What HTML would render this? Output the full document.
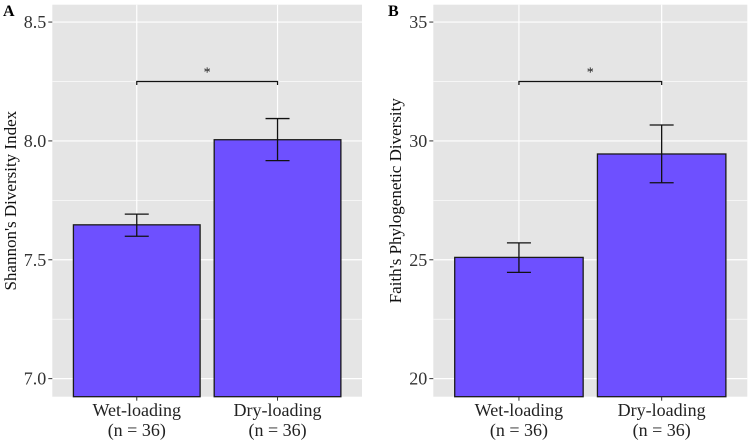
<!DOCTYPE html>
<html><head><meta charset="utf-8"><style>
html,body{margin:0;padding:0;background:#fff;}
svg text{font-family:"Liberation Serif","DejaVu Serif","Times New Roman",serif !important;}
</style></head><body>
<svg id="chart" width="750" height="440" viewBox="0 0 750 440" xmlns="http://www.w3.org/2000/svg" font-family="Liberation Serif, DejaVu Serif, serif"></svg>
<script>
const categories = ["Wet-loading", "Dry-loading"];
const catSub = ["(n = 36)", "(n = 36)"];
const shannonMean = [7.647, 8.005];
const shannonLow = [7.599, 7.917];
const shannonHigh = [7.692, 8.094];
const shannonTicks = ["7.0", "7.5", "8.0", "8.5"];
const shannonBracket = 8.25;
const faithMean = [25.1, 29.45];
const faithLow = [24.47, 28.24];
const faithHigh = [25.71, 30.67];
const faithTicks = ["20", "25", "30", "35"];
const faithBracket = 32.5;

const svg = document.getElementById('chart');
const NS = 'http://www.w3.org/2000/svg';
function mk(tag, attrs, parent) {
  const e = document.createElementNS(NS, tag);
  for (const k in attrs) e.setAttribute(k, attrs[k]);
  if (tag === 'text') e.setAttribute('font-family', 'Liberation Serif, DejaVu Serif, serif');
  (parent || svg).appendChild(e);
  return e;
}

function panel(cfg) {
  const g = mk('g', {});
  
  
  const x0 = cfg.x0, x1 = cfg.x1, y0 = 4.7, y1 = 396.7;
  const yScale = v => y1 - (v - cfg.dmin) / (cfg.dmax - cfg.dmin) * (y1 - y0);
  const unit = (x1 - x0) / (categories.length + 0.2);
  const xC = i => x0 + unit * (i + 0.6);
  const bg = mk('rect', {x: x0, y: y0, width: x1 - x0, height: y1 - y0, fill: '#e5e5e5'}, g);
  
  
  const tv = cfg.ticks.map(Number);
  const step = tv[1] - tv[0];
  for (let i = 0; i < tv.length - 1; i++) {
    const y = yScale(tv[i] + step / 2);
    const l = mk('line', {x1: x0, x2: x1, y1: y, y2: y, stroke: '#fff', 'stroke-width': 0.6}, g);
    
    
  }
  cfg.ticks.forEach((t, i) => {
    const y = yScale(tv[i]);
    const l = mk('line', {x1: x0, x2: x1, y1: y, y2: y, stroke: '#fff', 'stroke-width': 1.2}, g);
    
    
    const tk = mk('line', {x1: x0 - 4, x2: x0, y1: y, y2: y, stroke: '#333', 'stroke-width': 1}, g);
    
    
    const tx = mk('text', {x: x0 - 6, y: y + 6, 'text-anchor': 'end', 'font-size': 18, fill: '#333'}, g);
    tx.textContent = t;
    
    
  });
  categories.forEach((c, i) => {
    const x = xC(i);
    const l = mk('line', {x1: x, x2: x, y1: y0, y2: y1, stroke: '#fff', 'stroke-width': 1.2}, g);
    
    
  });
  categories.forEach((c, i) => {
    const x = xC(i), w = unit * 0.9;
    const yt = yScale(cfg.mean[i]);
    const b = mk('rect', {x: x - w / 2, y: yt, width: w, height: y1 - yt, fill: '#6e50ff', stroke: '#1a1a1a', 'stroke-width': 1.3}, g);
    
    
    const yl = yScale(cfg.low[i]), yh = yScale(cfg.high[i]);
    const eb = mk('path', {d: `M${x-12},${yh}H${x+12}M${x},${yh}V${yl}M${x-12},${yl}H${x+12}`, stroke: '#111', 'stroke-width': 1.3, fill: 'none'}, g);
    
    
    const tk = mk('line', {x1: x, x2: x, y1: y1, y2: y1 + 4, stroke: '#333', 'stroke-width': 1}, g);
    
    
    const t1 = mk('text', {x: x, y: 416, 'text-anchor': 'middle', 'font-size': 18, fill: '#222'}, g);
    t1.textContent = c;
    
    
    const t2 = mk('text', {x: x, y: 436, 'text-anchor': 'middle', 'font-size': 18, fill: '#222'}, g);
    t2.textContent = catSub[i];
    
    
  });
  const yb = yScale(cfg.bracket);
  const br = mk('path', {d: `M${xC(0)},${yb+3.5}V${yb}H${xC(1)}V${yb+3.5}`, stroke: '#111', 'stroke-width': 1.2, fill: 'none'}, g);
  
  
  const st = mk('text', {x: (xC(0) + xC(1)) / 2, y: yb - 5, 'text-anchor': 'middle', 'font-size': 14, fill: '#111'}, g);
  st.textContent = '*';
  
  
  const yt = mk('text', {x: 0, y: 0, 'text-anchor': 'middle', 'font-size': 17, fill: '#111', transform: `translate(${cfg.titleX},${(y0+y1)/2}) rotate(-90)`}, g);
  yt.textContent = cfg.title;
  
  
  const pl = mk('text', {x: cfg.labelX, y: 16, 'font-size': 16, 'font-weight': 'bold', fill: '#000'}, g);
  pl.textContent = cfg.letter;
  
  
}

panel({name: 'panel-a', x0: 52.3, x1: 362, dmin: 6.924, dmax: 8.573, ticks: shannonTicks,
  mean: shannonMean, low: shannonLow, high: shannonHigh, bracket: shannonBracket,
  title: "Shannon's Diversity Index", titleX: 16, letter: 'A', labelX: 3});
panel({name: 'panel-b', x0: 433.3, x1: 747.3, dmin: 19.24, dmax: 35.73, ticks: faithTicks,
  mean: faithMean, low: faithLow, high: faithHigh, bracket: faithBracket,
  title: "Faith's Phylogenetic Diversity", titleX: 401, letter: 'B', labelX: 388});
</script>
</body></html>
